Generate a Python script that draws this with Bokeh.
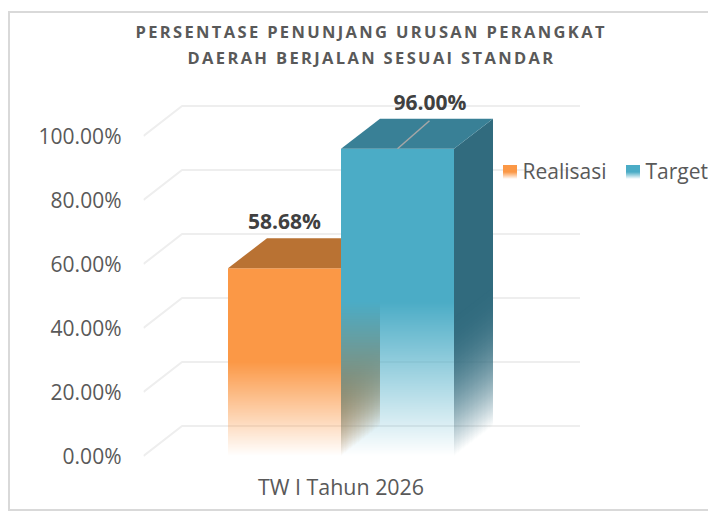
import numpy as np
from bokeh.plotting import figure
from bokeh.layouts import column
from bokeh.models import FixedTicker, NumeralTickFormatter, Range1d
from bokeh.core.properties import value
from bokeh.embed import file_html
from bokeh.resources import INLINE

# ---- data
title_lines = ["PERSENTASE PENUNJANG URUSAN PERANGKAT", "DAERAH BERJALAN SESUAI STANDAR"]
category = "TW I Tahun 2026"
series = ["Realisasi", "Target"]
values = [58.68, 96.00]
labels = ["58.68%", "96.00%"]
ticks = [0, 20, 40, 60, 80, 100]

# ---- styling / layout
FONT = "Open Sans"
front_cols = ["#fb9846", "#4bacc6"]
side_cols = ["#b87333", "#316b7e"]
top_cols = ["#b97233", "#398096"]
CX, Y0 = 341, 455                 # page pixel of x=0 and of y=0
PX_X, PX_Y = 113, 3.2             # pixels per bar width / per percent
DXP, DYP = 39, 30                 # 3-D depth in pixels
DX, DY = DXP / PX_X, DYP / PX_Y
# half-pixel shift: the SVG backend draws at a +0.5 offset, the bands must land on whole pixels
XL, XR = (143 - (CX - 0.5)) / PX_X, (708 - (CX - 0.5)) / PX_X
YB, YT = ((Y0 - 0.5) - 459) / PX_Y, ((Y0 - 0.5) - 75) / PX_Y
SIDE_SPAN = 0.9


p = figure(width=698, height=433, output_backend="svg", toolbar_location=None,
           x_range=Range1d(XL, XR), y_range=Range1d(YB, YT),
           min_border_left=133, min_border_right=0, min_border_top=0, min_border_bottom=49,
           outline_line_color=None, frame_align=False)
p.grid.visible = False

# axes
p.yaxis.ticker = FixedTicker(ticks=ticks)
p.yaxis.formatter = NumeralTickFormatter(format="0.00")
p.yaxis.major_label_overrides = {t: f"{t:.2f}%" for t in ticks}
p.yaxis.axis_line_color = None
p.yaxis.major_tick_line_color = None
p.yaxis.minor_tick_line_color = None
p.yaxis.major_label_standoff = 16
p.yaxis.major_label_text_font = FONT
p.yaxis.major_label_text_font_size = "21px"
p.yaxis.major_label_text_color = "#595959"
p.xaxis.ticker = FixedTicker(ticks=[0])
p.xaxis.major_label_overrides = {0: category}
p.xaxis.axis_line_color = None
p.xaxis.major_tick_line_color = None
p.xaxis.minor_tick_line_color = None
p.xaxis.major_label_standoff = 5
p.xaxis.major_label_text_font = FONT
p.xaxis.major_label_text_font_size = "21.4px"
p.xaxis.major_label_text_color = "#595959"

# 3-D grid
back_r = (580 - CX) / PX_X
for t in ticks:
    p.line([XL, (143 + DXP - CX) / PX_X, back_r], [t, t + DY, t + DY], line_color="#eeeeee", line_width=2)


def front_fade(x0, w_px, u0_px, n_px, color):
    """Horizontal one-pixel bands fading from opaque (top) to clear (bottom)."""
    k = np.arange(n_px)
    p.quad(left=x0, right=x0 + w_px / PX_X, bottom=(u0_px + k) / PX_Y, top=(u0_px + k + 1) / PX_Y,
           fill_color=color, fill_alpha=(k + 0.5) / n_px, line_color=None)


def side_fade(x1, v, color):
    """One-pixel cells of the side face, fading along the skewed depth."""
    span_px = v / 2 * SIDE_SPAN * PX_Y
    n = int(np.ceil(span_px)) + 3
    fx, tk = np.meshgrid(np.arange(DXP), np.arange(n))
    fx, tk = fx.ravel(), tk.ravel()
    u = tk + np.round((fx + 0.5) * DYP / DXP)      # row above the floor
    s = np.clip((tk + 0.5) / span_px, 0, 1)
    p.quad(left=x1 + fx / PX_X, right=x1 + (fx + 1) / PX_X, bottom=u / PX_Y, top=(u + 1) / PX_Y,
           fill_color=color, fill_alpha=1 - (1 - s) ** 2, line_color=None)
    return span_px / PX_Y


def bar(i):
    v = values[i]
    x0 = i - 1
    x1 = x0 + 1
    fade = v / 2
    n = int(np.ceil(fade * PX_Y))
    front_fade(x0, PX_X, 0, n, front_cols[i])
    p.quad(left=[x0], right=[x1], bottom=[n / PX_Y], top=[v], fill_color=front_cols[i], line_color=None)
    low = side_fade(x1, v, side_cols[i])
    p.patch([x1, x1 + DX, x1 + DX, x1], [low, low + DY, v + DY, v], fill_color=side_cols[i], line_color=None)
    p.patch([x0, x1, x1 + DX, x0 + DX], [v, v, v + DY, v + DY], fill_color=top_cols[i], line_color=None)


bar(0)
bar(1)

# leader line of the target label
p.line([0.5, 0.5 + 32 / PX_X], [values[1], values[1] + 28 / PX_Y], line_color="#a6a6a6", line_width=1.5)

# data labels
lab_x = [-0.5, (430 - CX) / PX_X]
lab_y = [v + 47 / PX_Y for v in values]
p.text(x=lab_x, y=lab_y, text=labels, text_font=value(FONT), text_font_style="bold",
       text_font_size="21px", text_color="#404040", text_align="center", text_baseline="middle")

# legend
sw_x = [(503 - CX) / PX_X, (626 - CX) / PX_X]
for i in range(2):
    front_fade(sw_x[i], 14, Y0 - 178, 7, front_cols[i])
    p.quad(left=[sw_x[i]], right=[sw_x[i] + 14 / PX_X], bottom=[(Y0 - 171) / PX_Y], top=[(Y0 - 164) / PX_Y],
           fill_color=front_cols[i], line_color=None)
p.text(x=[s + 19.5 / PX_X for s in sw_x], y=[(Y0 - 170) / PX_Y] * 2, text=series, text_font=value(FONT),
       text_font_size="21px", text_color="#595959", text_baseline="middle")

# title, in a figure of its own so that it can carry letter spacing
t = figure(width=698, height=63, output_backend="svg", toolbar_location=None,
           x_range=Range1d(0, 698), y_range=Range1d(0, 63), min_border=0, outline_line_color=None,
           x_axis_type=None, y_axis_type=None, frame_align=False,
           styles={"letter-spacing": "2.35px"})
t.grid.visible = False
t.text(x=[125, 177], y=[45, 19], text=title_lines, text_font=value(FONT), text_font_style="bold",
       text_font_size="16.5px", text_color="#595959", text_align="left", text_baseline="middle")

page = column(t, p, spacing=0, margin=(11, 0, 0, 8),
              styles={"border-left": "2px solid #d9d9d9", "border-top": "2px solid #d9d9d9",
                      "border-bottom": "2px solid #d9d9d9", "background": "white"})
open("out.html", "w").write(file_html(page, INLINE))
